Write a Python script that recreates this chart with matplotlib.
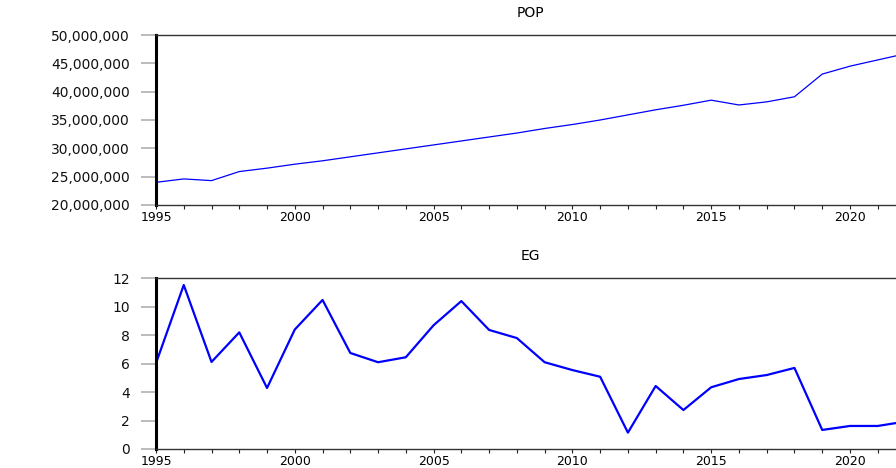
import matplotlib
matplotlib.use("Agg")
import matplotlib.pyplot as plt
from matplotlib.ticker import FuncFormatter, MultipleLocator

years = list(range(1995, 2023))

# population, persons
pop = [24.0e6, 24.6e6, 24.3e6, 25.9e6, 26.5e6, 27.2e6, 27.8e6, 28.5e6, 29.2e6, 29.9e6,
       30.6e6, 31.3e6, 32.0e6, 32.7e6, 33.5e6, 34.2e6, 35.0e6, 35.9e6, 36.8e6, 37.6e6,
       38.5e6, 37.65e6, 38.2e6, 39.1e6, 43.1e6, 44.5e6, 45.6e6, 46.7e6]

# economic growth, percent
eg = [6.03, 11.53, 6.12, 8.2, 4.29, 8.4, 10.48, 6.75, 6.1, 6.45,
      8.7, 10.4, 8.37, 7.8, 6.1, 5.55, 5.08, 1.15, 4.43, 2.74,
      4.34, 4.92, 5.2, 5.7, 1.34, 1.62, 1.62, 1.93]

pop_ticks = [20e6, 25e6, 30e6, 35e6, 40e6, 45e6, 50e6]
eg_ticks = [0, 2, 4, 6, 8, 10, 12]

plt.rcParams['font.family'] = ['DejaVu Sans']

fig = plt.figure(figsize=(8.96, 4.68), dpi=100)
ax1 = fig.add_axes([0.1741, 0.562, 0.8365, 0.3632])
ax2 = fig.add_axes([0.1741, 0.0406, 0.8365, 0.3647])


def style(ax, ticks, title):
    ax.set_xlim(1995, 2022)
    ax.set_yticks(ticks)
    ax.set_ylim(ticks[0], ticks[-1])
    ax.xaxis.set_major_locator(MultipleLocator(5))
    ax.xaxis.set_minor_locator(MultipleLocator(1))
    ax.tick_params(axis='x', which='both', direction='out', length=3, width=0.8,
                   color='#222222', labelsize=9, pad=1, labelcolor='black')
    ax.tick_params(axis='y', direction='out', length=11, width=1.2,
                   color='#b0b0b0', labelsize=10, pad=8, labelcolor='#111111')
    ax.spines['left'].set_linewidth(2.2)
    ax.spines['left'].set_color('black')
    ax.spines['top'].set_linewidth(1.0)
    ax.spines['top'].set_color('#333333')
    ax.spines['bottom'].set_linewidth(1.0)
    ax.spines['bottom'].set_color('#333333')
    ax.spines['right'].set_visible(False)
    ax.set_title(title, fontsize=10, pad=13, x=0.5)


ax1.plot(years, pop, color='#0000ff', lw=0.9)
style(ax1, pop_ticks, 'POP')
ax1.yaxis.set_major_formatter(FuncFormatter(lambda v, p: f"{int(v):,}"))

ax2.plot(years, eg, color='#0000ff', lw=1.6)
style(ax2, eg_ticks, 'EG')

fig.savefig('out.png', dpi=100)
